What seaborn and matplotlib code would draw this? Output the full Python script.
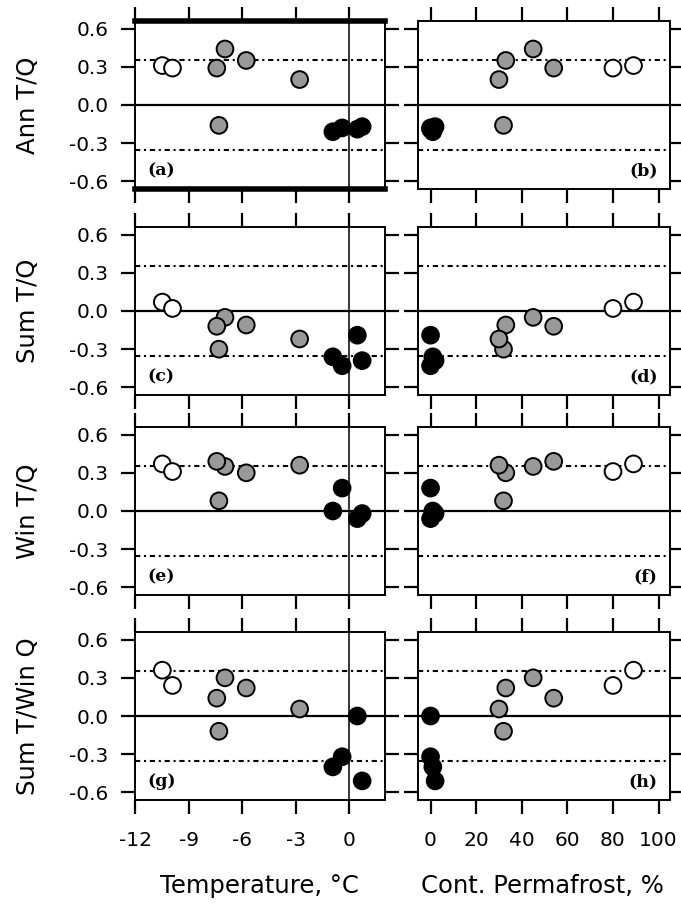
import numpy as np
import pandas as pd
import matplotlib
matplotlib.use("Agg")
import matplotlib.pyplot as plt
import seaborn as sns

# ---- data ----
station_group = ["open", "open", "gray", "gray", "gray", "gray", "gray",
                 "black", "black", "black", "black"]
temperature = [-10.47, -9.9, -6.96, -7.42, -5.77, -7.3, -2.78, 0.45, -0.92, -0.4, 0.72]
permafrost = [89, 80, 45, 54, 33, 32, 30, 0, 1, 0, 2]
ann_tq = [0.31, 0.29, 0.44, 0.29, 0.35, -0.16, 0.20, -0.19, -0.21, -0.18, -0.17]
sum_tq = [0.07, 0.02, -0.05, -0.12, -0.11, -0.30, -0.22, -0.19, -0.36, -0.43, -0.39]
win_tq = [0.37, 0.31, 0.35, 0.39, 0.30, 0.08, 0.36, -0.06, 0.0, 0.18, -0.02]
sumwin_tq = [0.36, 0.24, 0.30, 0.14, 0.22, -0.12, 0.055, 0.0, -0.40, -0.32, -0.51]

row_labels = ["Ann T/Q", "Sum T/Q", "Win T/Q", "Sum T/Win Q"]
panel_letters = [("(a)", "(b)"), ("(c)", "(d)"), ("(e)", "(f)"), ("(g)", "(h)")]
temp_ticks = [-12, -9, -6, -3, 0]
temp_ticklabels = ["-12", "-9", "-6", "-3", "0"]
perm_ticks = [0, 20, 40, 60, 80, 100]
perm_ticklabels = ["0", "20", "40", "60", "80", "100"]
y_ticks = [-0.6, -0.3, 0.0, 0.3, 0.6]
y_ticklabels = ["-0.6", "-0.3", "0.0", "0.3", "0.6"]
threshold = 0.35

df = pd.DataFrame({
    "group": station_group,
    "temperature": temperature,
    "permafrost": permafrost,
    "Ann T/Q": ann_tq,
    "Sum T/Q": sum_tq,
    "Win T/Q": win_tq,
    "Sum T/Win Q": sumwin_tq,
})

sns.set_style("ticks")
plt.rcParams["font.family"] = ["DejaVu Sans"]
plt.rcParams["text.color"] = "black"

W, H = 681, 905
fig = plt.figure(figsize=(W / 100, H / 100), dpi=100)

palette = {"open": "white", "gray": "#999999", "black": "black"}
row_tops = [21, 227, 427, 632]
ph = 168
lx0, lw_ = 135, 250
rx0, rw_ = 418, 252


def style_axis(ax, xlim, xticks, xticklabels, show_xlabels):
    ax.set_xlim(*xlim)
    ax.set_ylim(-0.66, 0.66)
    ax.set_xticks(xticks)
    ax.set_xticklabels(xticklabels)
    ax.set_yticks(y_ticks)
    ax.set_yticklabels(y_ticklabels)
    ax.tick_params(axis="both", direction="out", length=10, width=1.6,
                   top=True, right=True, labelsize=14.5, colors="black")
    ax.tick_params(axis="x", labelbottom=show_xlabels, labeltop=False, pad=12)
    for s in ax.spines.values():
        s.set_visible(True)
        s.set_linewidth(1.4)
        s.set_color("black")
    ax.set_xlabel("")
    ax.set_ylabel("")


for i, col in enumerate(row_labels):
    top = row_tops[i]
    bottom_frac = 1 - (top + ph) / H
    axl = fig.add_axes([lx0 / W, bottom_frac, lw_ / W, ph / H])
    axr = fig.add_axes([rx0 / W, bottom_frac, rw_ / W, ph / H])

    for ax, xcol in ((axl, "temperature"), (axr, "permafrost")):
        ax.axhline(0, color="black", lw=1.6, zorder=1)
        for t in (threshold, -threshold):
            ax.axhline(t, color="black", lw=1.5, ls=(0, (2.5, 1.8, 1, 1.8)), zorder=1)
        sns.scatterplot(data=df, x=xcol, y=col, hue="group", palette=palette,
                        edgecolor="black", linewidth=1.4, s=145, legend=False,
                        ax=ax, zorder=3)

    axl.axvline(0, color="black", lw=1.1, zorder=1)

    style_axis(axl, (-12, 2), temp_ticks, temp_ticklabels, i == 3)
    style_axis(axr, (-5.5, 105), perm_ticks, perm_ticklabels, i == 3)
    axl.tick_params(axis="y", labelleft=True, labelright=False, pad=9)
    axr.tick_params(axis="y", labelleft=False, labelright=False)

    if i == 0:
        axl.spines["top"].set_linewidth(4)
        axl.spines["bottom"].set_linewidth(4)

    la, lb = panel_letters[i]
    axl.text(0.05, 0.06, la, transform=axl.transAxes, ha="left", va="bottom",
             fontsize=12.5, fontweight="bold", family="DejaVu Serif", color="black")
    axr.text(0.95, 0.06, lb, transform=axr.transAxes, ha="right", va="bottom",
             fontsize=12.5, fontweight="bold", family="DejaVu Serif", color="black")

    fig.text(28 / W, 1 - (top + ph / 2) / H, col, rotation=90,
             ha="center", va="center", fontsize=17.5, color="black")

fig.text(259 / W, 1 - 886 / H, "Temperature, \u00b0C", ha="center", va="center",
         fontsize=17.5, color="black")
fig.text(542 / W, 1 - 886 / H, "Cont. Permafrost, %", ha="center", va="center",
         fontsize=17.5, color="black")

fig.savefig("out.png", dpi=100, facecolor="white")
